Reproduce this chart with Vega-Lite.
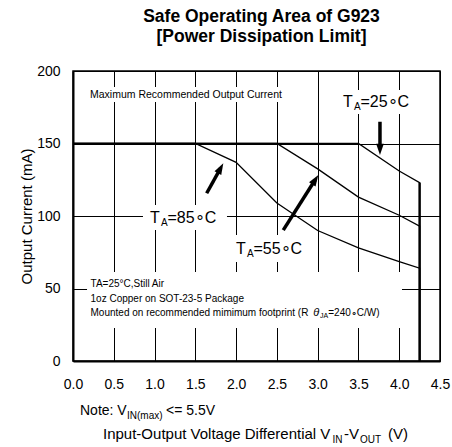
{
  "$schema": "https://vega.github.io/schema/vega-lite/v6.json",
  "width": 367,
  "height": 290,
  "autosize": {"type": "none"},
  "padding": {"left": 73, "top": 71, "right": 12, "bottom": 86},
  "background": "white",
  "config": {"font": "Liberation Sans", "view": {"stroke": "black", "strokeWidth": 1.5}},
  "title": {
    "text": ["Safe Operating Area of G923", "[Power Dissipation Limit]"],
    "fontSize": 17.5, "fontWeight": "bold", "font": "Liberation Sans", "color": "black",
    "anchor": "middle", "baseline": "bottom", "lineHeight": 19.5, "offset": 1, "dx": 5
  },
  "datasets": {
    "curves": [
      {"s": "85", "x": 0, "y": 150}, {"s": "85", "x": 1.5, "y": 150}, {"s": "85", "x": 2.0, "y": 137},
      {"s": "85", "x": 2.5, "y": 109}, {"s": "85", "x": 3.0, "y": 90}, {"s": "85", "x": 3.5, "y": 78},
      {"s": "85", "x": 4.0, "y": 68.5}, {"s": "85", "x": 4.25, "y": 64}, {"s": "85", "x": 4.25, "y": 0},
      {"s": "55", "x": 0, "y": 150}, {"s": "55", "x": 2.5, "y": 150}, {"s": "55", "x": 3.0, "y": 132.5},
      {"s": "55", "x": 3.5, "y": 113}, {"s": "55", "x": 4.0, "y": 100.5}, {"s": "55", "x": 4.25, "y": 93},
      {"s": "55", "x": 4.25, "y": 0},
      {"s": "25", "x": 0, "y": 150}, {"s": "25", "x": 3.5, "y": 150}, {"s": "25", "x": 4.0, "y": 131},
      {"s": "25", "x": 4.25, "y": 123}, {"s": "25", "x": 4.25, "y": 0}
    ],
    "boxes": [
      {"x": 0.858, "x2": 1.888, "y": 90.3, "y2": 107.6},
      {"x": 1.901, "x2": 2.784, "y": 68.3, "y2": 86.9},
      {"x": 3.249, "x2": 4.083, "y": 170.3, "y2": 186.9},
      {"x": 0.172, "x2": 2.648, "y": 178.6, "y2": 189.0},
      {"x": 0.172, "x2": 4.034, "y": 22.8, "y2": 61.4}
    ],
    "arrows": [
      {"a": "85", "x": 1.639, "y": 115.7, "x2": 1.807, "y2": 132.7},
      {"a": "55", "x": 2.578, "y": 90.3, "x2": 2.968, "y2": 124.8},
      {"a": "25", "x": 3.764, "y": 165.0, "x2": 3.764, "y2": 146.2}
    ],
    "heads": [
      {"a": "85", "x": 1.843, "y": 136.3},
      {"a": "55", "x": 3.008, "y": 128.3},
      {"a": "25", "x": 3.764, "y": 142.1}
    ],
    "txt": [
      {"g": "label", "t": "T", "x": 0.944, "y": 95.0},
      {"g": "label", "t": "=85∘C", "x": 1.159, "y": 95.0},
      {"g": "label", "t": "T", "x": 1.999, "y": 73.8},
      {"g": "label", "t": "=55∘C", "x": 2.213, "y": 73.8},
      {"g": "label", "t": "T", "x": 3.311, "y": 175.5},
      {"g": "label", "t": "=25∘C", "x": 3.525, "y": 175.5},
      {"g": "sub", "t": "A", "x": 1.079, "y": 92.8},
      {"g": "sub", "t": "A", "x": 2.134, "y": 71.4},
      {"g": "sub", "t": "A", "x": 3.446, "y": 173.1},
      {"g": "max", "t": "Maximum Recommended Output  Current", "x": 0.208, "y": 181.2},
      {"g": "caption", "t": "TA=25°C,Still Air", "x": 0.215, "y": 51.0},
      {"g": "caption", "t": "1oz Copper on SOT-23-5 Package", "x": 0.215, "y": 41.0},
      {"g": "caption", "t": "Mounted on recommended mimimum footprint  (R", "x": 0.215, "y": 31.0},
      {"g": "caption", "t": "=240∘C/W)", "x": 3.130, "y": 31.0},
      {"g": "theta", "t": "θ", "x": 2.945, "y": 31.0},
      {"g": "subsmall", "t": "JA", "x": 3.030, "y": 29.7},
      {"g": "note", "t": "Note: V", "x": 0.086, "y": -37.2},
      {"g": "note", "t": "<= 5.5V", "x": 1.140, "y": -37.2},
      {"g": "sub", "t": "IN(max)", "x": 0.662, "y": -40.0},
      {"g": "xtitle", "t": "Input-Output Voltage Differential V", "x": 0.368, "y": -53.8},
      {"g": "xtitle", "t": "-V", "x": 3.323, "y": -53.8},
      {"g": "xtitle", "t": "(V)", "x": 3.862, "y": -53.8},
      {"g": "sub", "t": "IN", "x": 3.182, "y": -56.6},
      {"g": "sub", "t": "OUT", "x": 3.519, "y": -56.6}
    ]
  },
  "encoding": {
    "x": {
      "field": "x", "type": "quantitative",
      "scale": {"domain": [0, 4.5], "nice": false, "zero": false},
      "axis": {
        "title": null, "values": [0, 0.5, 1, 1.5, 2, 2.5, 3, 3.5, 4, 4.5], "format": ".1f",
        "labelFontSize": 14, "labelColor": "black", "labelFont": "Liberation Sans",
        "labelPadding": 16, "ticks": false, "tickSize": 0, "labelFlush": false, "labelOverlap": false,
        "grid": true, "gridColor": "black", "gridOpacity": 1, "gridWidth": 1,
        "domainColor": "black", "domainWidth": 2
      }
    },
    "y": {
      "field": "y", "type": "quantitative",
      "scale": {"domain": [0, 200], "nice": false, "zero": false},
      "axis": {
        "title": "Output Current (mA)", "values": [0, 50, 100, 150, 200],
        "labelFontSize": 14, "labelColor": "black", "labelFont": "Liberation Sans",
        "labelPadding": 13, "ticks": false, "tickSize": 0, "labelFlush": false, "labelOverlap": false,
        "grid": true, "gridColor": "black", "gridOpacity": 1, "gridWidth": 1,
        "domainColor": "black", "domainWidth": 2,
        "titleFontSize": 15, "titleFontWeight": "normal", "titleColor": "black",
        "titleFont": "Liberation Sans", "titlePadding": 2
      }
    }
  },
  "layer": [
    {
      "data": {"name": "boxes"},
      "mark": {"type": "rect", "fill": "white", "stroke": null},
      "encoding": {"x2": {"field": "x2"}, "y2": {"field": "y2"}}
    },
    {
      "data": {"name": "curves"},
      "mark": {"type": "line", "color": "black", "strokeWidth": 1.3},
      "encoding": {"detail": {"field": "s"}, "order": {"value": null}}
    },
    {
      "data": {"name": "curves"},
      "transform": [
        {"filter": "datum.x == 4.25"},
        {"aggregate": [{"op": "min", "field": "y", "as": "ylo"}, {"op": "max", "field": "y", "as": "yhi"}], "groupby": ["x"]}
      ],
      "mark": {"type": "rule", "color": "black", "strokeWidth": 2.4},
      "encoding": {"y": {"field": "ylo", "type": "quantitative"}, "y2": {"field": "yhi"}}
    },
    {
      "data": {"name": "arrows"},
      "mark": {"type": "rule", "color": "black", "strokeWidth": 3.5},
      "encoding": {"x2": {"field": "x2"}, "y2": {"field": "y2"}}
    },
    {
      "data": {"name": "heads"},
      "transform": [{"filter": "datum.a == '85'"}],
      "mark": {"type": "point", "shape": "M0,0L0.55,1.6L-0.55,1.6Z", "filled": true, "color": "black", "opacity": 1, "size": 196, "angle": 29, "strokeWidth": 0}
    },
    {
      "data": {"name": "heads"},
      "transform": [{"filter": "datum.a == '55'"}],
      "mark": {"type": "point", "shape": "M0,0L0.55,1.6L-0.55,1.6Z", "filled": true, "color": "black", "opacity": 1, "size": 196, "angle": 32.5, "strokeWidth": 0}
    },
    {
      "data": {"name": "heads"},
      "transform": [{"filter": "datum.a == '25'"}],
      "mark": {"type": "point", "shape": "M0,0L0.55,1.6L-0.55,1.6Z", "filled": true, "color": "black", "opacity": 1, "size": 196, "angle": 180, "strokeWidth": 0}
    },
    {
      "data": {"name": "txt"},
      "transform": [{"filter": "datum.g == 'label'"}],
      "mark": {"type": "text", "align": "left", "baseline": "alphabetic", "fontSize": 16, "color": "black"},
      "encoding": {"text": {"field": "t"}}
    },
    {
      "data": {"name": "txt"},
      "transform": [{"filter": "datum.g == 'sub'"}],
      "mark": {"type": "text", "align": "left", "baseline": "alphabetic", "fontSize": 10, "color": "black"},
      "encoding": {"text": {"field": "t"}}
    },
    {
      "data": {"name": "txt"},
      "transform": [{"filter": "datum.g == 'max'"}],
      "mark": {"type": "text", "align": "left", "baseline": "alphabetic", "fontSize": 10.5, "color": "black"},
      "encoding": {"text": {"field": "t"}}
    },
    {
      "data": {"name": "txt"},
      "transform": [{"filter": "datum.g == 'caption'"}],
      "mark": {"type": "text", "align": "left", "baseline": "alphabetic", "fontSize": 10, "color": "black"},
      "encoding": {"text": {"field": "t"}}
    },
    {
      "data": {"name": "txt"},
      "transform": [{"filter": "datum.g == 'theta'"}],
      "mark": {"type": "text", "align": "left", "baseline": "alphabetic", "fontSize": 11, "fontStyle": "italic", "color": "black"},
      "encoding": {"text": {"field": "t"}}
    },
    {
      "data": {"name": "txt"},
      "transform": [{"filter": "datum.g == 'subsmall'"}],
      "mark": {"type": "text", "align": "left", "baseline": "alphabetic", "fontSize": 7, "color": "black"},
      "encoding": {"text": {"field": "t"}}
    },
    {
      "data": {"name": "txt"},
      "transform": [{"filter": "datum.g == 'note'"}],
      "mark": {"type": "text", "align": "left", "baseline": "alphabetic", "fontSize": 14, "color": "black"},
      "encoding": {"text": {"field": "t"}}
    },
    {
      "data": {"name": "txt"},
      "transform": [{"filter": "datum.g == 'xtitle'"}],
      "mark": {"type": "text", "align": "left", "baseline": "alphabetic", "fontSize": 15, "color": "black"},
      "encoding": {"text": {"field": "t"}}
    }
  ]
}
